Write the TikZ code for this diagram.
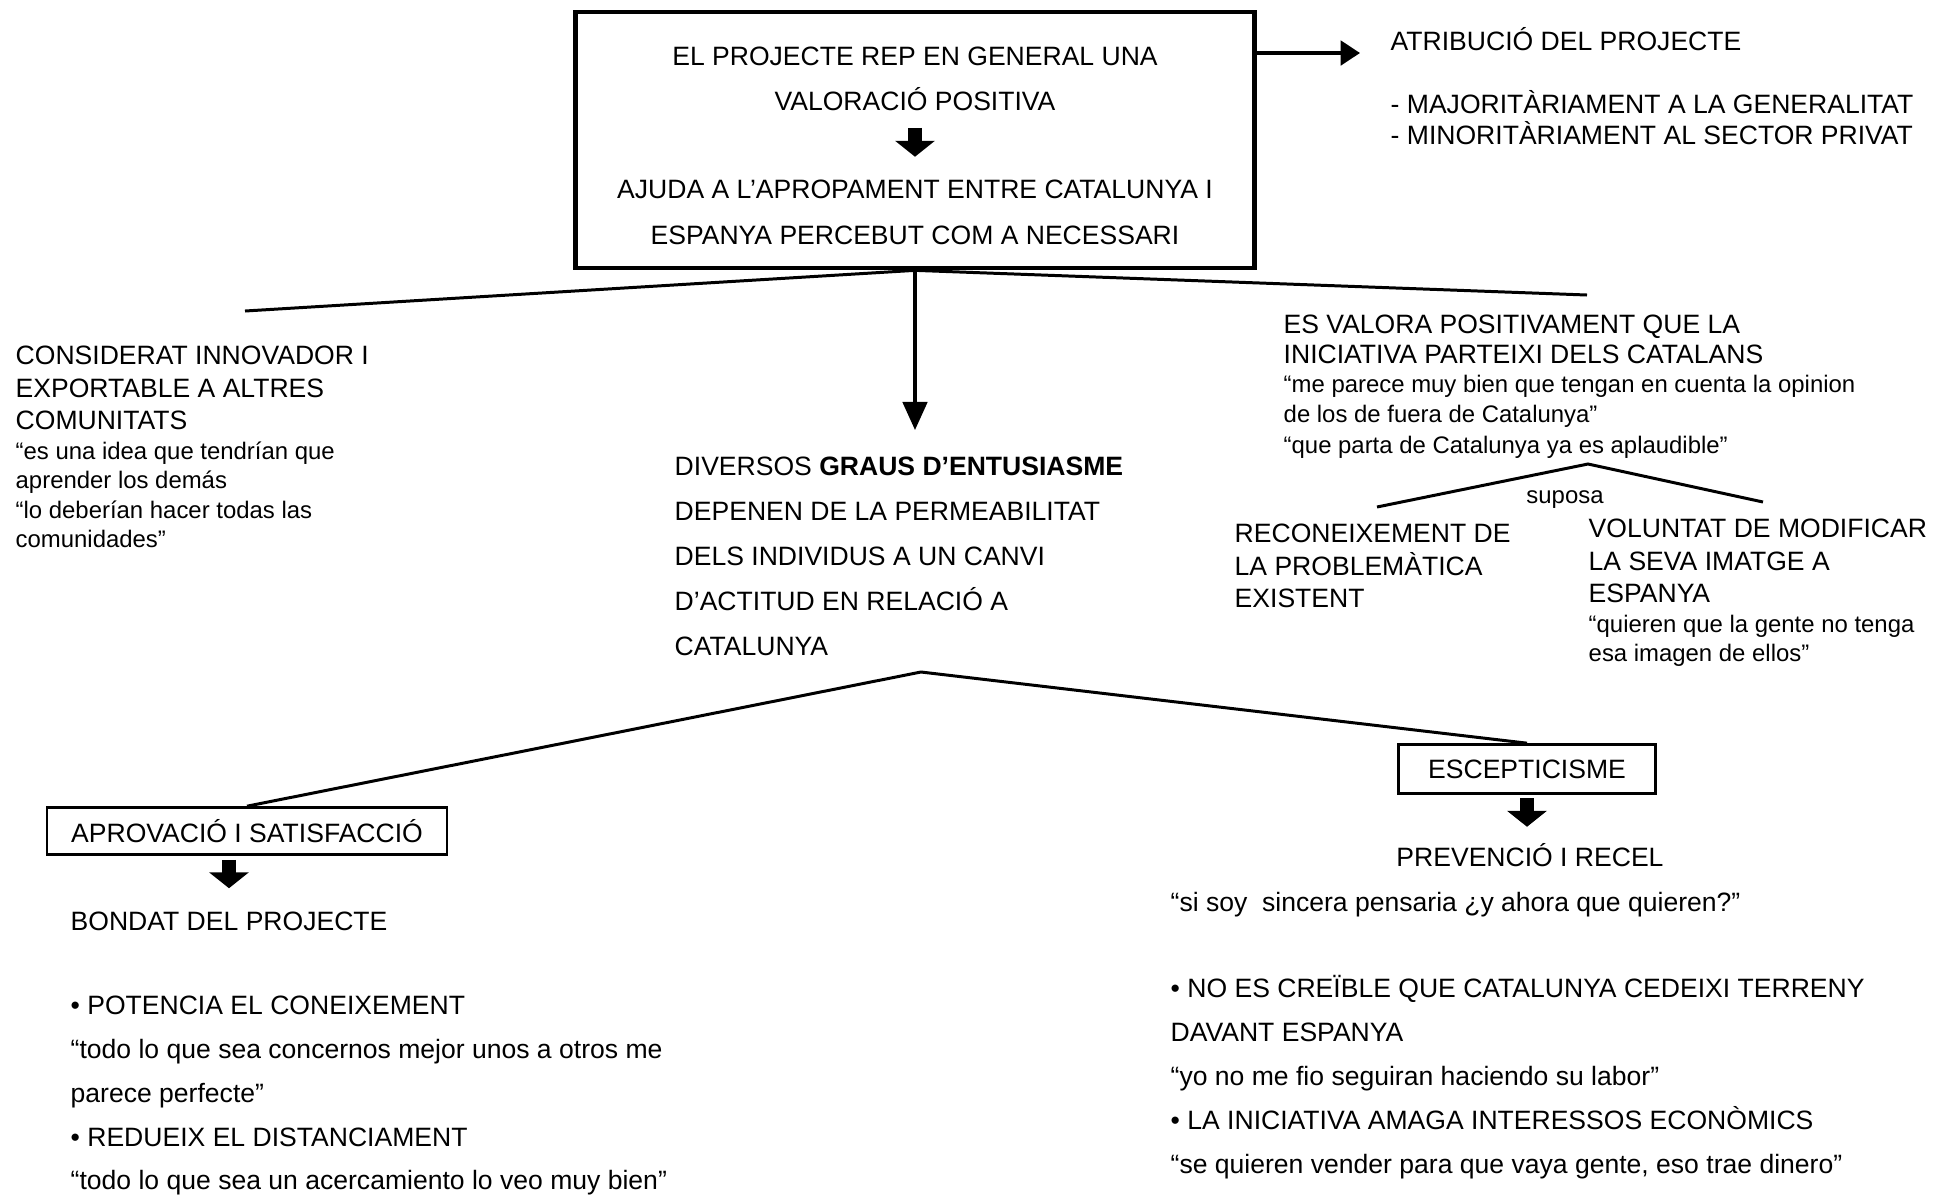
\documentclass[tikz,border=0pt]{standalone}
\usepackage{fontspec}
\setmainfont{Liberation Sans}
\usetikzlibrary{arrows.meta}

\tikzset{
  bigtxt/.style={inner sep=0pt, font=\fontsize{7.55}{9.25}\selectfont},
  smalltxt/.style={inner sep=0pt, font=\fontsize{6.8}{8.4}\selectfont},
  block/.style={align=left, anchor=north west},
  link/.style={line width=0.85pt},
  boxed/.style={draw, line width=0.75pt},
  bigarrow/.style={line width=4pt, -{Triangle[width=11pt,length=4.5pt]}},
  pointer/.style={line width=0.9pt, -{Triangle[width=7pt,length=8pt]}},
  sidearrow/.style={line width=0.9pt, -{Triangle[width=7pt,length=5.5pt]}}
}

\begin{document}
\begin{tikzpicture}[x=0.01cm, y=-0.01cm]
    \fill[white] (0,0) rectangle (1938,1199);
    \useasboundingbox (0,0) rectangle (1938,1199);

    % main box
    \node[draw, line width=1.3pt, minimum width=6.79cm, minimum height=2.56cm] (mainbox) at (915,140) {};
    \node[bigtxt, anchor=base] (proj) at (915,65.5) {EL PROJECTE REP EN GENERAL UNA};
    \node[bigtxt, anchor=base] (valor) at (915,110.5) {VALORACIÓ POSITIVA};
    \node[bigtxt, anchor=base] (ajuda) at (915,198.5) {AJUDA A L’APROPAMENT ENTRE CATALUNYA I};
    \node[bigtxt, anchor=base] (percep) at (915,244.5) {ESPANYA PERCEBUT COM A NECESSARI};
    \draw[bigarrow, shorten <=0.165cm, shorten >=0.225cm] (valor.south) -- (ajuda.north);

    % atribucio
    \node[bigtxt, anchor=base west] (atrib) at (1390,50.5) {ATRIBUCIÓ DEL PROJECTE};
    \node[bigtxt, anchor=base west] (majo) at (1390,113.5) {- MAJORITÀRIAMENT A LA GENERALITAT};
    \node[bigtxt, anchor=base west] (mino) at (1390,144.5) {- MINORITÀRIAMENT AL SECTOR PRIVAT};
    \draw[sidearrow, shorten >=0.3cm] (mainbox.east |- 0,53) -- (atrib.west |- 0,53);

    % first level
    \coordinate (lend) at (245,311);
    \coordinate (rend) at (1587,295);
    \coordinate (gtip) at (915,430);
    \draw[link] (mainbox.south) -- (lend);
    \draw[link] (mainbox.south) -- (rend);
    \draw[pointer] (mainbox.south) -- (gtip);

    \node[bigtxt, block] (consid) at (15,345.5) {CONSIDERAT INNOVADOR I\\EXPORTABLE A ALTRES\\COMUNITATS};
    \node[smalltxt, block] (consq) at (15,441) {“es una idea que tendrían que\\aprender los demás\\“lo deberían hacer todas las\\comunidades”};

    \node[bigtxt, block, font=\fontsize{7.55}{12.8}\selectfont] (graus) at (674,456.5) {DIVERSOS \textbf{GRAUS D’ENTUSIASME}\\DEPENEN DE LA PERMEABILITAT\\DELS INDIVIDUS A UN CANVI\\D’ACTITUD EN RELACIÓ A\\CATALUNYA};

    \node[bigtxt, block, font=\fontsize{7.55}{8.5}\selectfont] (valpos) at (1283,314.5) {ES VALORA POSITIVAMENT QUE LA\\INICIATIVA PARTEIXI DELS CATALANS};
    \node[smalltxt, block, font=\fontsize{6.8}{8.7}\selectfont] (valq) at (1283,374) {“me parece muy bien que tengan en cuenta la opinion\\de los de fuera de Catalunya”\\“que parta de Catalunya ya es aplaudible”};

    % suposa
    \coordinate (speak) at (1588,464);
    \coordinate (sleft) at (1377,507);
    \coordinate (sright) at (1763,502);
    \draw[link] (sleft) -- (speak) -- (sright);
    \node[smalltxt, anchor=base] (suposa) at (1565,503) {suposa};
    \node[bigtxt, block] (recon) at (1234,523.5) {RECONEIXEMENT DE\\LA PROBLEMÀTICA\\EXISTENT};
    \node[bigtxt, block] (volun) at (1588,518.5) {VOLUNTAT DE MODIFICAR\\LA SEVA IMATGE A\\ESPANYA};
    \node[smalltxt, block, font=\fontsize{6.8}{8.5}\selectfont] (volq) at (1588,614) {“quieren que la gente no tenga\\esa imagen de ellos”};

    % second level
    \coordinate (gpeak) at (921,672);
    \node[bigtxt, boxed, minimum width=4cm, minimum height=0.47cm] (aprov) at (247,831) {APROVACIÓ I SATISFACCIÓ};
    \node[bigtxt, boxed, minimum width=2.57cm, minimum height=0.49cm] (escep) at (1527,769) {ESCEPTICISME};
    \draw[link] (aprov.north) -- (gpeak) -- (escep.north);

    % aprovacio
    \node[bigtxt, anchor=base west] (bondat) at (70,930.5) {BONDAT DEL PROJECTE};
    \draw[bigarrow, shorten <=0.04cm, shorten >=0.23cm] ([xshift=-0.18cm]aprov.south) -- ([xshift=-0.18cm]aprov.south |- bondat.north);
    \node[bigtxt, block, font=\fontsize{7.55}{12.45}\selectfont] (potencia) at (70,995.5) {• POTENCIA EL CONEIXEMENT\\“todo lo que sea concernos mejor unos a otros me\\parece perfecte”\\• REDUEIX EL DISTANCIAMENT\\“todo lo que sea un acercamiento lo veo muy bien”};

    % escepticisme
    \node[bigtxt, anchor=base] (preven) at (1530,866.5) {PREVENCIÓ I RECEL};
    \draw[bigarrow, shorten <=0.035cm, shorten >=0.16cm] (escep.south) -- (escep.south |- preven.north);
    \node[bigtxt, anchor=base west] (sincera) at (1170,911) {“si soy\ \ sincera pensaria ¿y ahora que quieren?”};
    \node[bigtxt, block, font=\fontsize{7.55}{12.45}\selectfont] (creible) at (1170,975) {• NO ES CREÏBLE QUE CATALUNYA CEDEIXI TERRENY\\DAVANT ESPANYA\\“yo no me fio seguiran haciendo su labor”\\• LA INICIATIVA AMAGA INTERESSOS ECONÒMICS\\“se quieren vender para que vaya gente, eso trae dinero”};
\end{tikzpicture}
\end{document}
